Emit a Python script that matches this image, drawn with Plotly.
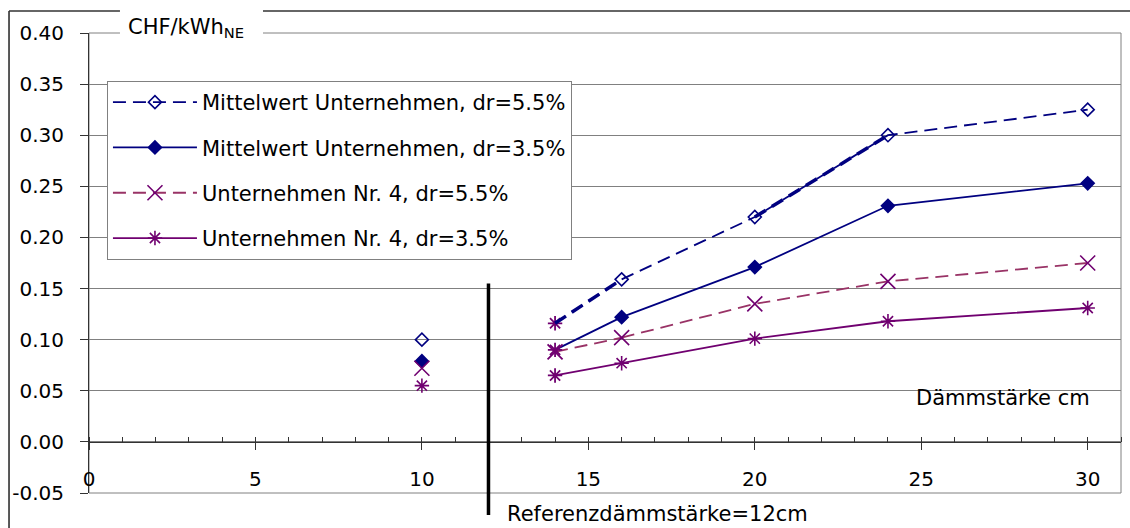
import plotly.graph_objects as go

# ---------------- data ----------------
x_main = [14, 16, 20, 24, 30]
x_single = [10]

names = [
    "Mittelwert Unternehmen, dr=5.5%",
    "Mittelwert Unternehmen, dr=3.5%",
    "Unternehmen Nr. 4, dr=5.5%",
    "Unternehmen Nr. 4, dr=3.5%",
]

mw55_single = [0.100]
mw55 = [0.116, 0.159, 0.220, 0.300, 0.325]
mw35_single = [0.079]
mw35 = [0.090, 0.122, 0.171, 0.231, 0.253]
u4_55_single = [0.072]
u4_55 = [0.088, 0.102, 0.135, 0.157, 0.175]
u4_35_single = [0.055]
u4_35 = [0.065, 0.077, 0.101, 0.118, 0.131]

y_tickvals = [-0.05, 0.00, 0.05, 0.10, 0.15, 0.20, 0.25, 0.30, 0.35, 0.40]
y_ticktext = ["-0.05", "0.00", "0.05", "0.10", "0.15", "0.20", "0.25", "0.30", "0.35", "0.40"]
x_tickvals = [0, 5, 10, 15, 20, 25, 30]
x_ticktext = ["0", "5", "10", "15", "20", "25", "30"]

ref_x = 12
y_title = "CHF/kWh<sub>NE</sub>"
x_title = "Dämmstärke cm"
ref_label = "Referenzdämmstärke=12cm"

# ---------------- styles ----------------
FONT = "DejaVu Sans"
NAVY = "#000080"
PLUM = "#993366"
PURPLE = "#700070"
y_range = [-0.05, 0.40]
x_range = [0, 31]
DASH = "13px,7px"

series = [
    dict(name=names[0], single=mw55_single, vals=mw55, color=NAVY, dash=DASH,
         sym="diamond-open", msize=10, mcol=NAVY,
         first_sym="asterisk-open", first_col=PURPLE, first_size=12),
    dict(name=names[1], single=mw35_single, vals=mw35, color=NAVY, dash="solid",
         sym="diamond", msize=10, mcol=NAVY,
         first_sym="asterisk-open", first_col=PURPLE, first_size=12),
    dict(name=names[2], single=u4_55_single, vals=u4_55, color=PLUM, dash=DASH,
         sym="x-thin-open", msize=15, mcol=PURPLE,
         first_sym="x-thin-open", first_col=PURPLE, first_size=15),
    dict(name=names[3], single=u4_35_single, vals=u4_35, color=PURPLE, dash="solid",
         sym="asterisk-open", msize=12, mcol=PURPLE,
         first_sym="asterisk-open", first_col=PURPLE, first_size=12),
]

fig = go.Figure()

for i, s in enumerate(series):
    grp = "g%d" % i
    lstyle = dict(color=s["color"], width=1.8, dash=s["dash"])
    # first segment (line only)
    fig.add_trace(go.Scatter(
        x=x_main[:2], y=s["vals"][:2], mode="lines", legendgroup=grp, showlegend=False,
        line=lstyle, hoverinfo="skip"))
    # rest of the series, shown in legend
    fig.add_trace(go.Scatter(
        x=x_main[1:], y=s["vals"][1:], name=s["name"], mode="lines+markers",
        legendgroup=grp, showlegend=True, line=lstyle,
        marker=dict(symbol=s["sym"], color=s["mcol"], size=s["msize"],
                    line=dict(color=s["mcol"], width=1.6))))

# markers at the first main point and at the single point
for i, s in enumerate(series):
    grp = "g%d" % i
    fig.add_trace(go.Scatter(
        x=x_single, y=s["single"], mode="markers", legendgroup=grp, showlegend=False,
        marker=dict(symbol=s["sym"], color=s["mcol"], size=s["msize"],
                    line=dict(color=s["mcol"], width=1.6))))
    fig.add_trace(go.Scatter(
        x=x_main[:1], y=s["vals"][:1], mode="markers", legendgroup=grp, showlegend=False,
        marker=dict(symbol=s["first_sym"], color=s["first_col"], size=s["first_size"],
                    line=dict(color=s["first_col"], width=1.8))))

# bold-looking segments of the first dashed series
bold_idx = [(0, 1), (2, 3)]
bx, by = [], []
for a, b in bold_idx:
    bx += [x_main[a], x_main[b], None]
    by += [mw55[a], mw55[b], None]
fig.add_trace(go.Scatter(x=bx, y=by, mode="lines", showlegend=False, legendgroup="g0",
                         line=dict(color=NAVY, width=3.5, dash=DASH), hoverinfo="skip"))


def ypaper(v):
    return (v - y_range[0]) / (y_range[1] - y_range[0])


shapes = [
    dict(type="rect", xref="paper", yref="paper", x0=0, x1=1, y0=0, y1=1,
         line=dict(color="#808080", width=1), layer="below"),
    dict(type="line", xref="paper", yref="paper", x0=-0.0775, x1=-0.0775, y0=-0.2, y1=1.0478,
         line=dict(color="#222222", width=1.5)),
    dict(type="line", xref="paper", yref="paper", x0=-0.0775, x1=1.05, y0=1.0478, y1=1.0478,
         line=dict(color="#333333", width=1.5)),
    dict(type="rect", xref="paper", yref="paper", x0=0.030, x1=0.1686, y0=0.9696, y1=1.0609,
         fillcolor="white", line=dict(width=0), layer="above"),
    dict(type="line", xref="x", yref="paper", x0=ref_x, x1=ref_x,
         y0=-0.048, y1=ypaper(0.155), line=dict(color="black", width=3.5), layer="above"),
]

annotations = [
    dict(text=y_title, xref="paper", yref="paper", x=0.0358, y=1.0105, xanchor="left",
         yanchor="middle", showarrow=False, font=dict(family=FONT, size=21, color="black")),
    dict(text=x_title, xref="paper", yref="paper", x=0.886, y=0.2065, xanchor="center",
         yanchor="middle", showarrow=False, font=dict(family=FONT, size=21, color="black")),
    dict(text=ref_label, xref="paper", yref="paper", x=0.4031, y=-0.0446, xanchor="left",
         yanchor="middle", showarrow=False, font=dict(family=FONT, size=21, color="black")),
]

fig.update_layout(
    width=1130, height=528, autosize=False,
    margin=dict(l=89, r=9, t=33, b=35),
    paper_bgcolor="white", plot_bgcolor="white",
    font=dict(family=FONT, size=20, color="black"),
    showlegend=True,
    legend=dict(x=0.0174, y=0.8957, xanchor="left", yanchor="top",
                bgcolor="white", bordercolor="#808080", borderwidth=1,
                font=dict(family=FONT, size=21, color="black"),
                traceorder="grouped", tracegroupgap=15, itemwidth=84),
    xaxis=dict(range=x_range, anchor="free", position=ypaper(0.0),
               tickmode="array", tickvals=x_tickvals, ticktext=x_ticktext,
               showgrid=False, zeroline=False, showline=True, linecolor="#333333", linewidth=1,
               ticks="outside", ticklen=7, tickcolor="#333333", tickwidth=1,
               minor=dict(ticks="inside", dtick=1, tick0=0, ticklen=5, tickcolor="#333333",
                          showgrid=False),
               tickfont=dict(family=FONT, size=20, color="black"), ticklabelstandoff=12),
    yaxis=dict(range=y_range, tickmode="array", tickvals=y_tickvals, ticktext=y_ticktext,
               showgrid=True, gridcolor="#808080", gridwidth=1, zeroline=False,
               showline=True, linecolor="#333333", linewidth=1,
               ticks="outside", ticklen=8, tickcolor="#333333",
               tickfont=dict(family=FONT, size=20, color="black"), ticklabelstandoff=12),
    shapes=shapes, annotations=annotations,
)

fig.write_html("out.html")
